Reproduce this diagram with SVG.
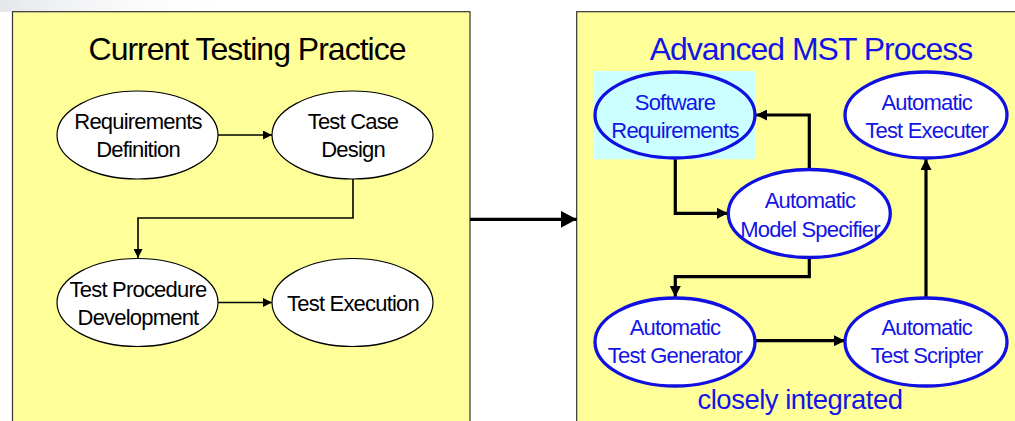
<svg xmlns="http://www.w3.org/2000/svg" width="1015" height="421" viewBox="0 0 1015 421">
  <style>
    .panel { fill: #FFFF99; stroke: #333333; stroke-width: 1.2; }
    .title { font-family: "Liberation Sans", Arial, sans-serif; font-size: 32px; letter-spacing: -1px; text-anchor: middle; }
    .lbl { font-family: "Liberation Sans", Arial, sans-serif; font-size: 22px; letter-spacing: -0.8px; text-anchor: middle; }
    .note { font-family: "Liberation Sans", Arial, sans-serif; font-size: 27.5px; letter-spacing: -0.5px; text-anchor: middle; }
    .dark { fill: #000000; }
    .blue { fill: #1414E6; }
    .plain { fill: #FFFFFF; stroke: #000000; stroke-width: 1.2; }
    .auto { fill: #FFFFFF; stroke: #1010E0; stroke-width: 3.3; }
    .sky { fill: #CCFFFF; }
    .thin { fill: none; stroke: #000000; stroke-width: 1.6; }
    .thick { fill: none; stroke: #000000; stroke-width: 3.2; }
  </style>
  <defs>
    <marker id="headSmall" viewBox="0 0 10 10" refX="10" refY="5" markerWidth="9" markerHeight="9" markerUnits="userSpaceOnUse" orient="auto">
      <path d="M0,0 L10,5 L0,10 Z" fill="#000000"/>
    </marker>
    <marker id="headBold" viewBox="0 0 10 10" refX="10" refY="5" markerWidth="11" markerHeight="11" markerUnits="userSpaceOnUse" orient="auto">
      <path d="M0,0 L10,5 L0,10 Z" fill="#000000"/>
    </marker>
    <marker id="headBig" viewBox="0 0 10 10" refX="10" refY="5" markerWidth="16" markerHeight="17" markerUnits="userSpaceOnUse" orient="auto" preserveAspectRatio="none">
      <path d="M0,0 L10,5 L0,10 Z" fill="#000000"/>
    </marker>
    <linearGradient id="haze" x1="0" y1="0" x2="1" y2="0">
      <stop offset="0" stop-color="#E4E6EA"/>
      <stop offset="1" stop-color="#FFFFFF" stop-opacity="0"/>
    </linearGradient>
  </defs>

  <rect x="0" y="0" width="1015" height="421" fill="#FFFFFF"/>
  <rect x="0" y="0" width="240" height="12" fill="url(#haze)"/>

  <!-- left panel -->
  <g id="panel-current">
    <rect class="panel" x="12.5" y="11.7" width="457.5" height="420"/>
    <text class="title dark" x="247" y="60">Current Testing Practice</text>
  </g>

  <!-- right panel -->
  <g id="panel-advanced">
    <rect class="panel" x="576.7" y="11.7" width="450" height="420"/>
    <text class="title blue" x="811" y="60">Advanced MST Process</text>
    <text class="note blue" x="800" y="409">closely integrated</text>
  </g>

  <!-- connectors -->
  <g id="connectors">
    <path class="thin" d="M218,135 H272" marker-end="url(#headSmall)"/>
    <path class="thin" d="M353,179 V218 H138 V258" marker-end="url(#headSmall)"/>
    <path class="thin" d="M218,302.5 H272" marker-end="url(#headSmall)"/>
    <path class="thick" d="M470,219.3 H576.7" marker-end="url(#headBig)"/>
    <path class="thick" d="M809.3,169 V115 H756" marker-end="url(#headBold)"/>
    <path class="thick" d="M675.3,159 V213.3 H728" marker-end="url(#headBold)"/>
    <path class="thick" d="M809.3,258 V276.7 H675.3 V297" marker-end="url(#headBold)"/>
    <path class="thick" d="M756,340.7 H845" marker-end="url(#headBold)"/>
    <path class="thick" d="M926,297 V159" marker-end="url(#headBold)"/>
  </g>

  <!-- current practice nodes -->
  <g id="requirements-definition">
    <ellipse class="plain" cx="137.5" cy="135" rx="80.5" ry="44"/>
    <text class="lbl dark" x="138" y="129">Requirements</text>
    <text class="lbl dark" x="138" y="157">Definition</text>
  </g>
  <g id="test-case-design">
    <ellipse class="plain" cx="352.5" cy="135" rx="80.5" ry="44"/>
    <text class="lbl dark" x="353" y="129">Test Case</text>
    <text class="lbl dark" x="353" y="157">Design</text>
  </g>
  <g id="test-procedure-development">
    <ellipse class="plain" cx="137.5" cy="302.5" rx="80.5" ry="44"/>
    <text class="lbl dark" x="138" y="297">Test Procedure</text>
    <text class="lbl dark" x="138" y="325">Development</text>
  </g>
  <g id="test-execution">
    <ellipse class="plain" cx="352.5" cy="302.5" rx="80.5" ry="44"/>
    <text class="lbl dark" x="353" y="311">Test Execution</text>
  </g>

  <!-- MST process nodes -->
  <g id="software-requirements">
    <rect class="sky" x="594" y="71" width="161.7" height="88.3"/>
    <ellipse class="auto sky" cx="675" cy="115" rx="80" ry="43" style="fill:#CCFFFF"/>
    <text class="lbl blue" x="675" y="110">Software</text>
    <text class="lbl blue" x="675" y="137.7">Requirements</text>
  </g>
  <g id="automatic-test-executer">
    <ellipse class="auto" cx="926" cy="115" rx="81" ry="43"/>
    <text class="lbl blue" x="926.7" y="110">Automatic</text>
    <text class="lbl blue" x="926.7" y="137.7">Test Executer</text>
  </g>
  <g id="automatic-model-specifier">
    <ellipse class="auto" cx="809.3" cy="213.5" rx="81" ry="44"/>
    <text class="lbl blue" x="810" y="208">Automatic</text>
    <text class="lbl blue" x="810" y="236.7">Model Specifier</text>
  </g>
  <g id="automatic-test-generator">
    <ellipse class="auto" cx="675" cy="342" rx="80" ry="44"/>
    <text class="lbl blue" x="675" y="335">Automatic</text>
    <text class="lbl blue" x="675" y="363">Test Generator</text>
  </g>
  <g id="automatic-test-scripter">
    <ellipse class="auto" cx="926" cy="342" rx="81" ry="44"/>
    <text class="lbl blue" x="926.7" y="335">Automatic</text>
    <text class="lbl blue" x="926.7" y="363">Test Scripter</text>
  </g>
</svg>
